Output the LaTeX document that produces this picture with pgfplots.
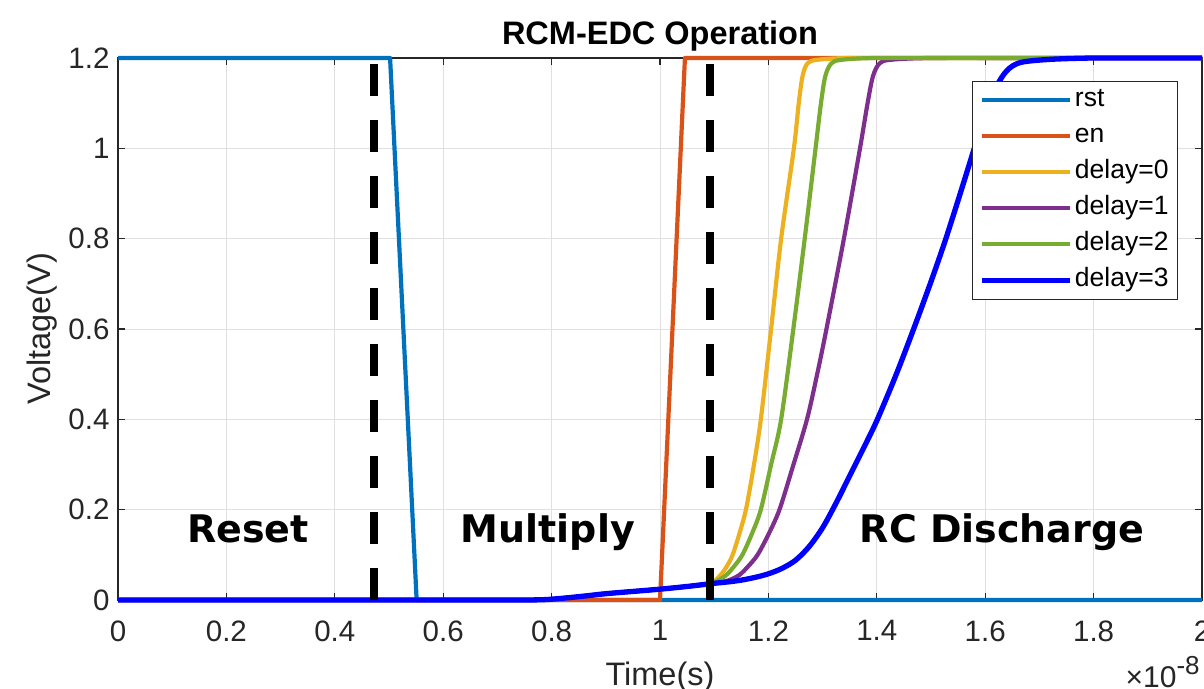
\documentclass[border=0pt]{standalone}
\usepackage{fontspec}
\setmainfont{Liberation Sans}
\newfontfamily\annfont{DejaVu Sans}
\usepackage{pgfplots}
\pgfplotsset{compat=1.18}
\definecolor{c1}{HTML}{0072BD}
\definecolor{c2}{HTML}{D95319}
\definecolor{c3}{HTML}{EDB120}
\definecolor{c4}{HTML}{7E2F8E}
\definecolor{c5}{HTML}{77AC30}
\definecolor{c6}{HTML}{0000FF}
\definecolor{axc}{HTML}{262626}
\begin{document}
\begin{tikzpicture}
\begin{axis}[
  scale only axis, width=1084bp, height=542bp,
  xmin=0, xmax=2, ymin=0, ymax=1.2,
  xtick={0,0.2,0.4,0.6,0.8,1,1.2,1.4,1.6,1.8,2},
  xticklabels={0,0.2,0.4,0.6,0.8,1,1.2,1.4,1.6,1.8,2},
  ytick={0,0.2,0.4,0.6,0.8,1,1.2},
  yticklabels={0,0.2,0.4,0.6,0.8,1,1.2},
  tick align=inside, tick pos=both,
  major tick length=7bp,
  every tick/.style={axc, line width=1.2bp},
  axis line style={axc, line width=1.2bp},
  grid=major, major grid style={black!12, line width=1bp},
  tick label style={font=\fontsize{29.5bp}{34bp}\selectfont, text=axc},
  xticklabel style={yshift=-17bp},
  yticklabel style={xshift=-5bp},
  xlabel={Time(s)}, ylabel={Voltage(V)},
  label style={font=\fontsize{32.5bp}{38bp}\selectfont, text=axc},
  xlabel style={at={(rel axis cs:0.5,-0.157)}, anchor=base},
  ylabel style={at={(rel axis cs:-0.0701,0.5)}, anchor=center},
  title={RCM-EDC Operation},
  title style={at={(rel axis cs:0.5,1.014)}, anchor=base, font=\bfseries\fontsize{32.5bp}{38bp}\selectfont},
  legend style={at={(rel axis cs:0.978,0.958)}, anchor=north east, draw=axc, line width=1.2bp, fill=white,
    font=\fontsize{26.5bp}{30bp}\selectfont, text=black, inner xsep=7bp, inner ysep=5bp, row sep=8bp,
    nodes={inner sep=2bp, text height=18bp, text depth=6bp}},
  legend cell align=left,
  legend image code/.code={\draw[#1] (0bp,0bp) -- (88bp,0bp);},
  clip=false,
]
\addplot[c1, line width=4.2bp, line join=round] coordinates {(0,1.2) (0.502,1.2) (0.551,0) (2,0)};
\addlegendentry{rst}
\addplot[c2, line width=4.2bp, line join=round] coordinates {(0,0) (1.0,0) (1.046,1.2) (2,1.2)};
\addlegendentry{en}
\addplot[c3, line width=4.2bp, line join=round, smooth, tension=0.5] coordinates {
(0,0) (0.6,0) (0.7,0) (0.75,0) (0.79,0.001) (0.83,0.005) (0.87,0.01) (0.9,0.014) (0.95,0.019) (1.0,0.024) (1.05,0.03) (1.09,0.036) (1.1,0.041)
(1.115,0.06) (1.125,0.078) (1.134,0.1) (1.146,0.145) (1.1585,0.2) (1.172,0.29) (1.186,0.4) (1.205,0.6) (1.2235,0.8)
(1.247,1.0) (1.256,1.1) (1.263,1.16) (1.272,1.188) (1.29,1.196) (1.35,1.2) (1.5,1.2) (2,1.2)};
\addlegendentry{delay=0}
\addplot[c4, line width=4.2bp, line join=round, smooth, tension=0.5] coordinates {
(0,0) (0.6,0) (0.7,0) (0.75,0) (0.79,0.001) (0.83,0.005) (0.87,0.01) (0.9,0.014) (0.95,0.019) (1.0,0.024) (1.05,0.03) (1.09,0.035) (1.1,0.037)
(1.125,0.043) (1.146,0.055) (1.163,0.075) (1.18,0.1) (1.2,0.145) (1.2204,0.2) (1.245,0.295) (1.2712,0.4) (1.29,0.5) (1.3071,0.6)
(1.3393,0.8) (1.369,1.0) (1.383,1.1) (1.393,1.16) (1.405,1.188) (1.425,1.196) (1.5,1.2) (1.7,1.2) (2,1.2)};
\addlegendentry{delay=1}
\addplot[c5, line width=4.2bp, line join=round, smooth, tension=0.5] coordinates {
(0,0) (0.6,0) (0.7,0) (0.75,0) (0.79,0.001) (0.83,0.005) (0.87,0.01) (0.9,0.014) (0.95,0.019) (1.0,0.024) (1.05,0.03) (1.09,0.036) (1.1,0.039)
(1.12,0.053) (1.135,0.072) (1.152,0.1) (1.17,0.148) (1.186,0.2) (1.205,0.3) (1.2235,0.4) (1.246,0.6)
(1.267,0.8) (1.287,1.0) (1.297,1.1) (1.305,1.16) (1.316,1.188) (1.335,1.196) (1.4,1.2) (1.6,1.2) (2,1.2)};
\addlegendentry{delay=2}
\addplot[c6, line width=5.3bp, line join=round, smooth, tension=0.5] coordinates {
(0,0) (0.6,0) (0.7,0) (0.75,0) (0.79,0.001) (0.83,0.005) (0.87,0.01) (0.9,0.014) (0.95,0.019) (1.0,0.024) (1.05,0.03) (1.1,0.037)
(1.125,0.04) (1.15,0.044) (1.175,0.05) (1.2,0.058) (1.225,0.07) (1.25,0.088) (1.275,0.118) (1.3,0.16) (1.325,0.215) (1.35,0.275) (1.375,0.335) (1.4,0.397) (1.435,0.497)
(1.467,0.597) (1.5,0.705) (1.526,0.795) (1.55,0.885) (1.576,0.985) (1.598,1.07) (1.62,1.135) (1.64,1.172) (1.665,1.19) (1.72,1.197) (1.8,1.2) (1.9,1.2) (2,1.2)};
\addlegendentry{delay=3}
\addplot[black, line width=8bp, dash pattern=on 32bp off 24bp, forget plot] coordinates {(0.473,0) (0.473,1.2)};
\addplot[black, line width=8bp, dash pattern=on 32bp off 24bp, forget plot] coordinates {(1.092,0) (1.092,1.2)};
\node[anchor=base, font=\annfont\bfseries\fontsize{38bp}{46bp}\selectfont] at (axis cs:0.24,0.128) {Reset};
\node[anchor=base, font=\annfont\bfseries\fontsize{38bp}{46bp}\selectfont] at (axis cs:0.793,0.128) {Multiply};
\node[anchor=base, font=\annfont\bfseries\fontsize{38bp}{46bp}\selectfont] at (axis cs:1.631,0.128) {RC Discharge};
\node[anchor=base east, inner sep=0pt, text=axc, font=\fontsize{30bp}{34bp}\selectfont] at (rel axis cs:0.998,-0.1605) {×10\raisebox{13bp}{\fontsize{26bp}{28bp}\selectfont -8}};
\coordinate (sw) at (rel axis cs:0,0);
\coordinate (ne) at (rel axis cs:1,1);
\end{axis}
\pgfresetboundingbox
\path[use as bounding box] ([xshift=-118bp,yshift=-88bp]sw) rectangle ([xshift=2bp,yshift=58bp]ne);
\end{tikzpicture}
\end{document}
